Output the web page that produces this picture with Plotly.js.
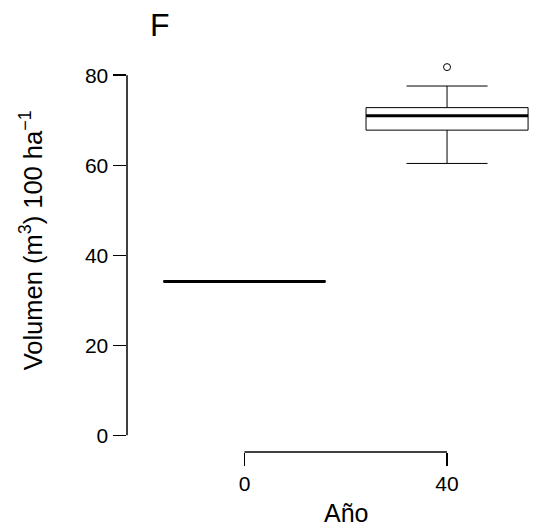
<!DOCTYPE html>
<html>
<head>
<meta charset="utf-8">
<script src="https://cdn.plot.ly/plotly-3.0.1.min.js"></script>
<style>html,body{margin:0;padding:0;background:#fff;}#chart{width:558px;height:531px;}</style>
</head>
<body>
<div id="chart"></div>
<script>
// Data
const categories = ['0', '40'];          // Año
const lowerWhisker = [34.2, 60.4];
const q1Values     = [34.2, 67.8];
const medianValues = [34.2, 71.0];
const q3Values     = [34.2, 72.8];
const upperWhisker = [34.2, 77.6];
const outlierYear  = ['40'];
const outlierValues = [81.8];
const yTicks = [0, 20, 40, 60, 80];

const positions = categories.map((c, i) => i + 1);
const posOf = c => positions[categories.indexOf(c)];
const boxWidth = 0.8;

const traces = [];
categories.forEach((c, i) => {
  traces.push({
    type: 'box',
    x: [positions[i]],
    q1: [q1Values[i]], median: [medianValues[i]], q3: [q3Values[i]],
    lowerfence: [lowerWhisker[i]], upperfence: [upperWhisker[i]],
    width: boxWidth, whiskerwidth: 0.5,
    line: {color: '#000', width: 1},
    fillcolor: 'rgba(0,0,0,0)',
    boxpoints: false, hoverinfo: 'skip', showlegend: false
  });
  traces.push({
    type: 'scatter', mode: 'lines',
    x: [positions[i] - boxWidth / 2, positions[i] + boxWidth / 2],
    y: [medianValues[i], medianValues[i]],
    line: {color: '#000', width: 3}, hoverinfo: 'skip', showlegend: false
  });
});
traces.push({
  type: 'scatter', mode: 'markers',
  x: outlierYear.map(posOf), y: outlierValues,
  marker: {symbol: 'circle-open', size: 7, color: '#000', line: {width: 1}},
  hoverinfo: 'skip', showlegend: false
});

const font = 'Liberation Sans, Arial, sans-serif';
const layout = {
  width: 558, height: 531,
  margin: {l: 126.7, r: 0, t: 13.8, b: 79.3},
  paper_bgcolor: '#fff', plot_bgcolor: '#fff',
  font: {family: font, color: '#000'},
  showlegend: false,
  xaxis: {
    range: [0.42, 0.42 + 431.3 / 202.7],
    tickmode: 'array', tickvals: positions, ticktext: categories,
    showgrid: false, zeroline: false, showline: false,
    ticks: 'outside', ticklen: 13, tickwidth: 1.5, tickcolor: '#000',
    tickfont: {size: 21, family: font, color: '#000'}
  },
  yaxis: {
    range: [-3.7, 93.6],
    tickmode: 'array', tickvals: yTicks, ticktext: yTicks.map(String),
    showgrid: false, zeroline: false, showline: false,
    ticks: 'outside', ticklen: 13.5, tickwidth: 1.5, tickcolor: '#000',
    tickfont: {size: 21, family: font, color: '#000'}
  },
  shapes: [
    {type: 'line', xref: 'paper', yref: 'y', x0: 0, x1: 0, y0: yTicks[0], y1: yTicks[yTicks.length - 1], line: {color: '#000', width: 1.5}},
    {type: 'line', xref: 'x', yref: 'paper', x0: positions[0], x1: positions[positions.length - 1], y0: 0, y1: 0, line: {color: '#000', width: 1.5}}
  ],
  annotations: [
    {text: 'F', xref: 'paper', yref: 'paper', x: (148 - 126.7) / 431.3, y: (451.7 - 25) / 437.9, xanchor: 'left', yanchor: 'middle', showarrow: false, font: {size: 32, family: font, color: '#000'}},
    {text: 'Año', xref: 'x', yref: 'paper', x: (positions[0] + positions[positions.length - 1]) / 2, y: (451.7 - 513) / 437.9, xanchor: 'center', yanchor: 'middle', showarrow: false, font: {size: 25, family: font, color: '#000'}},
    {text: 'Volumen (m<sup>3</sup>) 100 ha<sup>−1</sup>', xref: 'paper', yref: 'paper', x: (31 - 126.7) / 431.3, y: 0.5, yshift: -7, xanchor: 'center', yanchor: 'middle', textangle: -90, showarrow: false, font: {size: 25.5, family: font, color: '#000'}}
  ]
};

Plotly.newPlot('chart', traces, layout, {displayModeBar: false, staticPlot: true});
</script>
</body>
</html>
